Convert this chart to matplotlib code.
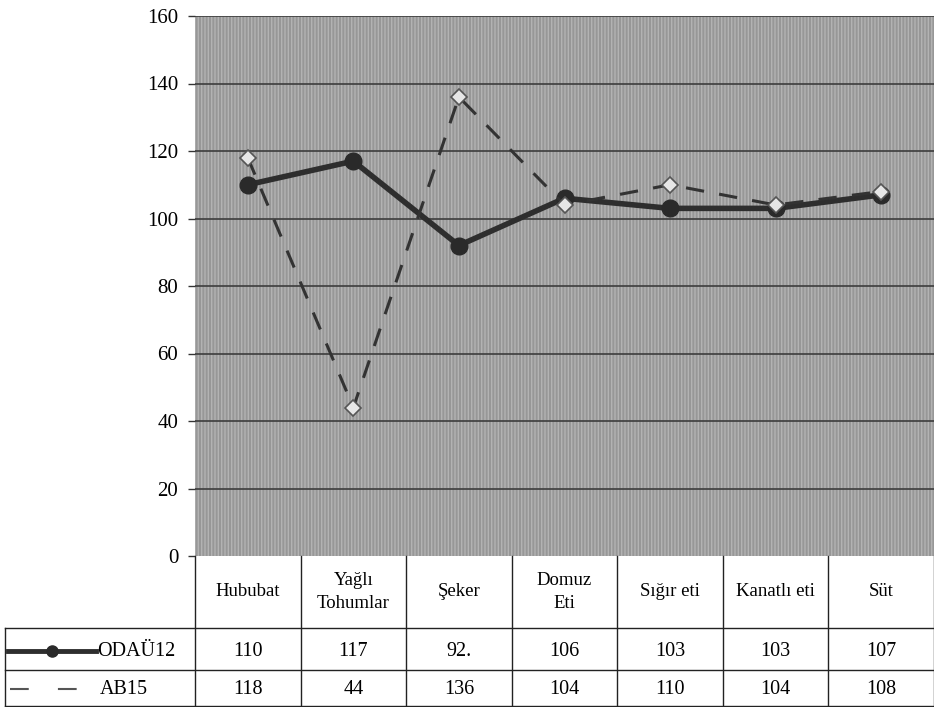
import matplotlib
matplotlib.use("Agg")
import matplotlib.pyplot as plt
from matplotlib.patches import Rectangle
from matplotlib.lines import Line2D
from matplotlib.transforms import blended_transform_factory

categories = ["Hububat", "Yağlı\nTohumlar", "Şeker", "Domuz\nEti", "Sığır eti", "Kanatlı eti", "Süt"]
series_names = ["ODAÜ12", "AB15"]
odau12 = [110, 117, 92, 106, 103, 103, 107]
ab15 = [118, 44, 136, 104, 110, 104, 108]
odau12_labels = ["110", "117", "92.", "106", "103", "103", "107"]
ab15_labels = ["118", "44", "136", "104", "110", "104", "108"]
yticks = [0, 20, 40, 60, 80, 100, 120, 140, 160]

plt.rcParams['font.family'] = ['Liberation Serif', 'DejaVu Serif']
plt.rcParams['hatch.linewidth'] = 1.0

W, H = 934, 707
fig = plt.figure(figsize=(W / 100, H / 100), dpi=100)
left_px, right_px, top_px, bottom_px = 195, 934, 16, 556
ax = fig.add_axes([left_px / W, 1 - bottom_px / H, (right_px - left_px) / W, (bottom_px - top_px) / H])

n = len(categories)
x = list(range(n))
ax.set_xlim(-0.5, n - 0.5)
ax.set_ylim(0, 160)

# background
ax.add_patch(Rectangle((0, 0), 1, 1, transform=ax.transAxes, facecolor='#979797',
                       edgecolor='#b3b3b3', hatch='|||||', lw=0, zorder=0))
for yv in yticks[1:]:
    ax.axhline(yv, color='#3c3c3c', lw=1.2, zorder=1)

ax.plot(x, odau12, color='#2e2e2e', lw=4, marker='o', ms=12, mfc='#2a2a2a', mec='#2a2a2a', zorder=4)
ax.plot(x, ab15, color='#333333', lw=2.2, ls=(0, (6, 5)), marker='D', ms=8,
        mfc='#e6e6e6', mec='#555555', mew=1.2, zorder=5)

for s in ax.spines.values():
    s.set_visible(False)
ax.set_xticks([])
ax.set_yticks(yticks)
ax.set_yticklabels([str(v) for v in yticks], fontsize=15)
ax.tick_params(axis='y', length=5, width=1, color='#333333', pad=7)

# data table
tr = blended_transform_factory(ax.transData, fig.transFigure)
def fy(py):
    return 1 - py / H

row_hdr_top, row1_top, row2_top, row2_bot = 556, 628, 670, 706
line_kw = dict(color='#222222', lw=1.0, clip_on=False)

fig.add_artist(Line2D([5 / W, right_px / W], [fy(row1_top)] * 2, transform=fig.transFigure, **line_kw))
fig.add_artist(Line2D([5 / W, right_px / W], [fy(row2_top)] * 2, transform=fig.transFigure, **line_kw))
fig.add_artist(Line2D([5 / W, right_px / W], [fy(row2_bot)] * 2, transform=fig.transFigure, **line_kw))
fig.add_artist(Line2D([5 / W, 5 / W], [fy(row1_top), fy(row2_bot)], transform=fig.transFigure, **line_kw))
for i in range(n + 1):
    xb = i - 0.5
    ax.add_artist(Line2D([xb, xb], [fy(row_hdr_top), fy(row2_bot)], transform=tr, **line_kw))

for i, c in enumerate(categories):
    ax.text(i, fy((row_hdr_top + row1_top) / 2), c, transform=tr, ha='center', va='center',
            fontsize=13.5, linespacing=1.45, clip_on=False)
    ax.text(i, fy((row1_top + row2_top) / 2 + 2), odau12_labels[i], transform=tr, ha='center', va='center',
            fontsize=14.5, clip_on=False)
    ax.text(i, fy((row2_top + row2_bot) / 2 + 1), ab15_labels[i], transform=tr, ha='center', va='center',
            fontsize=14.5, clip_on=False)

y1 = fy((row1_top + row2_top) / 2 + 2)
y2 = fy((row2_top + row2_bot) / 2 + 1)
fig.add_artist(Line2D([8 / W, 96 / W], [y1, y1], transform=fig.transFigure, color='#2e2e2e', lw=3.5))
fig.add_artist(Line2D([52 / W], [y1], transform=fig.transFigure, marker='o', ms=8, color='#2a2a2a', lw=0))
fig.text(97 / W, y1, series_names[0], ha='left', va='center', fontsize=14.5)
fig.add_artist(Line2D([10 / W, 84 / W], [y2, y2], transform=fig.transFigure, color='#555555', lw=1.5,
                      ls=(0, (9, 14))))
fig.text(100 / W, y2, series_names[1], ha='left', va='center', fontsize=14.5)

fig.savefig("out.png", dpi=100, facecolor='white')
